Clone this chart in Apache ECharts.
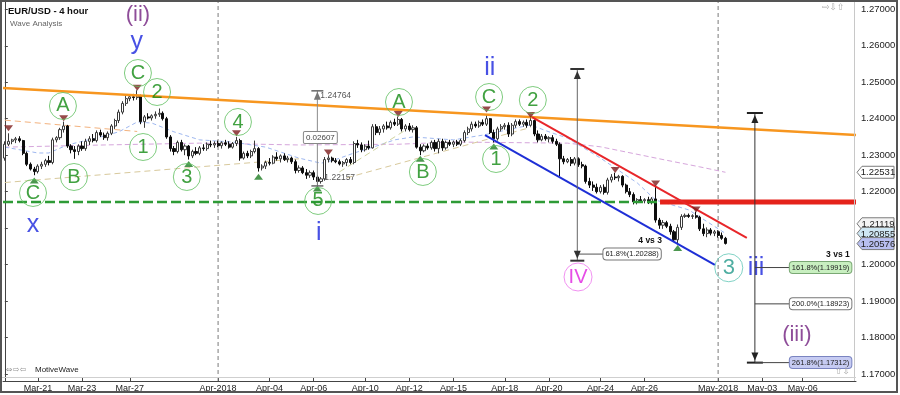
<!DOCTYPE html>
<html><head><meta charset="utf-8">
<script src="https://cdn.jsdelivr.net/npm/echarts@6/dist/echarts.min.js"></script>
<style>html,body{margin:0;padding:0;background:#fff}#c{width:900px;height:395px}</style>
</head><body><div id="c"></div>
<script>
// ---------- DATA ----------
const barCount = 232; // 4-hour bars incl. empty future space
const dayLabels    = ['Mar-21','Mar-23','Mar-27','Apr-2018','Apr-04','Apr-06','Apr-10','Apr-12','Apr-15','Apr-18','Apr-20','Apr-24','Apr-26','May-2018','May-03','May-06'];
const dayLabelBars = [9,21,34,58,72,84,98,110,122,136,148,162,174,194,206,217];
const monthStartBars = [58,194];

const opens = [1.2292,1.2330,1.2338,1.2342,1.2345,1.2340,1.2305,1.2275,1.2262,1.2255,1.2270,1.2275,1.2285,1.2280,1.2342,1.2348,1.2370,1.2380,1.2325,1.2315,
1.2310,1.2325,1.2318,1.2338,1.2345,1.2340,1.2362,1.2355,1.2348,1.2360,1.2380,1.2395,1.2418,1.2442,1.2455,1.2460,1.2458,1.2462,1.2392,1.2405,
1.2402,1.2408,1.2412,1.2415,1.2400,1.2350,1.2318,1.2310,1.2335,1.2315,1.2325,1.2298,1.2310,1.2305,1.2320,1.2318,1.2330,1.2328,1.2332,1.2326,
1.2334,1.2330,1.2322,1.2332,1.2340,1.2292,1.2305,1.2298,1.2310,1.2318,1.2265,1.2270,1.2280,1.2278,1.2295,1.2290,1.2298,1.2288,1.2292,1.2282,
1.2258,1.2265,1.2252,1.2245,1.2252,1.2240,1.2228,1.2235,1.2288,1.2292,1.2285,1.2282,1.2276,1.2280,1.2288,1.2280,1.2332,1.2328,1.2315,1.2325,
1.2320,1.2378,1.2362,1.2372,1.2380,1.2375,1.2390,1.2385,1.2398,1.2372,1.2380,1.2370,1.2375,1.2322,1.2312,1.2325,1.2320,1.2335,1.2318,1.2338,
1.2320,1.2335,1.2330,1.2336,1.2330,1.2340,1.2362,1.2372,1.2385,1.2380,1.2390,1.2385,1.2400,1.2362,1.2345,1.2372,1.2378,1.2382,1.2358,1.2382,
1.2392,1.2385,1.2390,1.2382,1.2395,1.2358,1.2342,1.2352,1.2345,1.2348,1.2338,1.2330,1.2290,1.2282,1.2288,1.2278,1.2290,1.2274,1.2270,1.2228,
1.2218,1.2212,1.2200,1.2212,1.2198,1.2232,1.2240,1.2238,1.2242,1.2218,1.2200,1.2192,1.2172,1.2178,1.2175,1.2178,1.2170,1.2180,1.2122,1.2108,
1.2115,1.2105,1.2090,1.2068,1.2102,1.2132,1.2135,1.2132,1.2134,1.2130,1.2098,1.2085,1.2095,1.2086,1.2090,1.2080,1.2072];
const highs = [1.2338,1.2360,1.2345,1.2350,1.2352,1.2342,1.2310,1.2280,1.2268,1.2275,1.2282,1.2290,1.2298,1.2348,1.2352,1.2375,1.2392,1.2383,1.2330,1.2325,
1.2330,1.2338,1.2345,1.2352,1.2358,1.2368,1.2370,1.2362,1.2365,1.2385,1.2400,1.2425,1.2448,1.2462,1.2465,1.2468,1.2478,1.2466,1.2410,1.2415,
1.2412,1.2420,1.2428,1.2420,1.2405,1.2355,1.2325,1.2340,1.2342,1.2330,1.2328,1.2315,1.2322,1.2325,1.2330,1.2335,1.2340,1.2338,1.2340,1.2338,
1.2342,1.2338,1.2336,1.2350,1.2345,1.2310,1.2312,1.2315,1.2340,1.2322,1.2275,1.2285,1.2292,1.2300,1.2308,1.2302,1.2305,1.2298,1.2296,1.2288,
1.2272,1.2270,1.2262,1.2258,1.2258,1.2245,1.2240,1.2295,1.2300,1.2296,1.2292,1.2288,1.2284,1.2292,1.2295,1.2338,1.2342,1.2335,1.2330,1.2340,
1.2385,1.2385,1.2380,1.2385,1.2392,1.2395,1.2400,1.2406,1.2402,1.2385,1.2388,1.2382,1.2380,1.2330,1.2330,1.2332,1.2340,1.2342,1.2345,1.2345,
1.2340,1.2342,1.2340,1.2342,1.2345,1.2368,1.2378,1.2392,1.2392,1.2395,1.2398,1.2412,1.2402,1.2370,1.2378,1.2385,1.2388,1.2390,1.2388,1.2398,
1.2398,1.2395,1.2398,1.2402,1.2398,1.2368,1.2358,1.2358,1.2352,1.2355,1.2345,1.2335,1.2298,1.2292,1.2295,1.2295,1.2294,1.2282,1.2274,1.2238,
1.2228,1.2222,1.2218,1.2220,1.2238,1.2248,1.2252,1.2246,1.2245,1.2222,1.2210,1.2198,1.2182,1.2188,1.2182,1.2186,1.2185,1.2215,1.2128,1.2122,
1.2120,1.2112,1.2095,1.2110,1.2138,1.2140,1.2140,1.2138,1.2145,1.2134,1.2112,1.2102,1.2100,1.2095,1.2094,1.2088,1.2076];
const lows = [1.2285,1.2325,1.2330,1.2333,1.2335,1.2300,1.2270,1.2258,1.2245,1.2250,1.2262,1.2268,1.2272,1.2275,1.2335,1.2342,1.2362,1.2320,1.2305,1.2290,
1.2300,1.2312,1.2312,1.2328,1.2335,1.2335,1.2350,1.2342,1.2340,1.2355,1.2372,1.2388,1.2412,1.2435,1.2448,1.2450,1.2452,1.2385,1.2375,1.2398,
1.2395,1.2400,1.2405,1.2395,1.2345,1.2310,1.2300,1.2305,1.2310,1.2300,1.2288,1.2292,1.2300,1.2300,1.2312,1.2312,1.2322,1.2320,1.2322,1.2318,
1.2325,1.2318,1.2318,1.2325,1.2285,1.2288,1.2292,1.2292,1.2305,1.2255,1.2258,1.2262,1.2272,1.2275,1.2285,1.2280,1.2284,1.2280,1.2276,1.2250,
1.2252,1.2248,1.2235,1.2238,1.2232,1.2216,1.2222,1.2230,1.2280,1.2280,1.2278,1.2272,1.2268,1.2270,1.2275,1.2275,1.2320,1.2308,1.2310,1.2315,
1.2318,1.2355,1.2355,1.2362,1.2370,1.2370,1.2380,1.2380,1.2365,1.2365,1.2365,1.2362,1.2318,1.2300,1.2308,1.2315,1.2315,1.2310,1.2305,1.2312,
1.2315,1.2325,1.2322,1.2325,1.2325,1.2335,1.2355,1.2365,1.2375,1.2375,1.2380,1.2380,1.2358,1.2335,1.2340,1.2365,1.2370,1.2350,1.2352,1.2375,
1.2380,1.2378,1.2375,1.2378,1.2352,1.2335,1.2338,1.2340,1.2335,1.2332,1.2325,1.2242,1.2275,1.2278,1.2270,1.2272,1.2268,1.2264,1.2222,1.2210,
1.2202,1.2195,1.2195,1.2192,1.2192,1.2225,1.2232,1.2228,1.2212,1.2195,1.2185,1.2165,1.2165,1.2170,1.2168,1.2166,1.2165,1.2115,1.2098,1.2098,
1.2100,1.2082,1.2062,1.2056,1.2095,1.2128,1.2128,1.2125,1.2126,1.2092,1.2078,1.2075,1.2080,1.2078,1.2074,1.2068,1.2055];
const closes = [1.2330,1.2338,1.2342,1.2345,1.2340,1.2305,1.2275,1.2262,1.2255,1.2270,1.2275,1.2285,1.2280,1.2342,1.2348,1.2370,1.2380,1.2325,1.2315,1.2310,
1.2325,1.2318,1.2338,1.2345,1.2340,1.2362,1.2355,1.2348,1.2360,1.2380,1.2395,1.2418,1.2442,1.2455,1.2460,1.2458,1.2462,1.2392,1.2405,1.2402,
1.2408,1.2412,1.2415,1.2400,1.2350,1.2318,1.2310,1.2335,1.2315,1.2325,1.2298,1.2310,1.2305,1.2320,1.2318,1.2330,1.2328,1.2332,1.2326,1.2334,
1.2330,1.2322,1.2332,1.2340,1.2292,1.2305,1.2298,1.2310,1.2318,1.2265,1.2270,1.2280,1.2278,1.2295,1.2290,1.2298,1.2288,1.2292,1.2282,1.2258,
1.2265,1.2252,1.2245,1.2252,1.2240,1.2228,1.2235,1.2288,1.2292,1.2285,1.2282,1.2276,1.2280,1.2288,1.2280,1.2332,1.2328,1.2315,1.2325,1.2320,
1.2378,1.2362,1.2372,1.2380,1.2375,1.2390,1.2385,1.2398,1.2372,1.2380,1.2370,1.2375,1.2322,1.2312,1.2325,1.2320,1.2335,1.2318,1.2338,1.2320,
1.2335,1.2330,1.2336,1.2330,1.2340,1.2362,1.2372,1.2385,1.2380,1.2390,1.2385,1.2400,1.2362,1.2345,1.2372,1.2378,1.2382,1.2358,1.2382,1.2392,
1.2385,1.2390,1.2382,1.2395,1.2358,1.2342,1.2352,1.2345,1.2348,1.2338,1.2330,1.2290,1.2282,1.2288,1.2278,1.2290,1.2274,1.2270,1.2228,1.2218,
1.2212,1.2200,1.2212,1.2198,1.2232,1.2240,1.2238,1.2242,1.2218,1.2200,1.2192,1.2172,1.2178,1.2175,1.2178,1.2170,1.2180,1.2122,1.2108,1.2115,
1.2105,1.2090,1.2068,1.2102,1.2132,1.2135,1.2132,1.2134,1.2130,1.2098,1.2085,1.2095,1.2086,1.2090,1.2080,1.2072,1.2058];

// indicator / average lines (sparse readings: [bar, price])
const avgBlue   = [[0,1.2322],[9,1.2306],[12,1.2306],[17,1.2328],[26,1.2350],[31,1.2364],[36,1.2391],[40,1.2388],[46,1.2364],[53,1.2342],[62,1.2336],[71,1.2322],[80,1.2292],[86,1.2278],[90,1.2288],[95,1.2306],[102,1.2328],[106,1.2342],[111,1.2350],[122,1.2342],[130,1.2355],[143,1.2383],[148,1.2364],[153,1.2347],[162,1.2292],[172,1.2224],[177,1.2177],[186,1.2150],[196,1.20855]];
const avgPurple = [[0,1.2322],[27,1.2328],[53,1.2333],[80,1.2328],[107,1.2330],[122,1.2336],[153,1.2333],[162,1.2323],[180,1.2286],[189,1.2268],[196,1.22531]];
const avgOrange = [[0,1.2396],[36,1.2365]];
const guideTan1 = [[0,1.2225],[80,1.2290]];
const guideTan2 = [[93,1.2238],[143,1.2376]];
const guideOlive = [[91,1.2254],[109,1.2369]];

// trend lines [bar, price]
const orangeTrend = [[-0.5,1.2484],[231.5,1.2355]];
const redChannel  = [[143.4,1.2404],[201.8,1.2073]];
const blueChannel = [[130.6,1.2355],[193.1,1.1999]];
const supportLevel = 1.21716;
const supportBreakBar = 177.4;

// swing markers [bar, price]
const highMarkers = [[1,1.23740],[16,1.24010],[36,1.24850],[63,1.23600],[88,1.23075],[107,1.24129],[131,1.24253],[143,1.24102],[166,1.22594],[177,1.22223],[188,1.21510]];
const lowMarkers  = [[8,1.22306],[50,1.22758],[69,1.22410],[85,1.22086],[113,1.22904],[133,1.23238],[183,1.20456]];

// wave labels [text, bar, price]
const minorWaves = [['C',7.66,1.21963],['A',15.8,1.24349],['B',18.8,1.22402],['C',36.2,1.25253],['2',41.4,1.24732],['1',37.6,1.23224],['3',49.5,1.22402],['4',63.4,1.23910],['5',85.2,1.21744],['A',107.2,1.24458],['B',113.7,1.22539],['C',131.7,1.24595],['1',133.6,1.22895],['2',143.6,1.24513]];
const minuteWaves = [['3',196.9,1.19913]];
const primaryWaves = [['IV',155.9,1.19660]];
const blueWaves = [['y',35.9,1.26103],['x',7.66,1.21085],['i',85.4,1.20866],['ii',131.9,1.25390],['iii',204.3,1.19906]];
const purpleWaves = [['(ii)',36.2,1.26844],['(iii)',215.4,1.18070]];

// measurement tools
const measureI = {bar:85, low:1.22157, high:1.24764, diff:'0.02607'};
const fibIV = {bar:155.7, top:1.25363, bottom:1.20107, level:1.20288, labelBar:162.8, label:'61.8%(1.20288)'};
const fibIII = {bar:204, top:1.24157, bottom:1.17312, labelBar:213.5};
const fibIIILevels = [1.19919, 1.18923, 1.17312];
const fibIIILabels = ['161.8%(1.19919)','200.0%(1.18923)','261.8%(1.17312)'];
const priceTags = [1.22531, 1.21119, 1.20855, 1.20576];
const yMin = 1.16808, yMax = 1.27200;

// ---------- CHART ----------
const FONT = '"Liberation Sans", Arial, sans-serif';
const chart = echarts.init(document.getElementById('c'), null, {renderer:'canvas'});
const categories = Array.from({length: barCount}, (_, i) => String(i));
const labelAt = {}; dayLabelBars.forEach((b, k) => { labelAt[b] = dayLabels[k]; });
const candleData = opens.map((o, i) => [o, closes[i], lows[i], highs[i]]);

const lineS = (data, color, width, type, z) => ({type:'line', xAxisIndex:1, yAxisIndex:0, data, symbol:'none', silent:true, lineStyle:{color, width, type}, z: z || 2});
const textS = (arr, color, size, z) => ({type:'scatter', xAxisIndex:1, silent:true, z: z || 20,
  data: arr.map(([t,b,p]) => ({name:t, value:[b,p]})), symbol:'circle', symbolSize:1, itemStyle:{color:'rgba(0,0,0,0)'},
  label:{show:true, position:'inside', formatter:'{b}', fontSize:size, color, fontFamily:FONT}});
const circleS = (arr, ring, color, size, d) => ({type:'scatter', xAxisIndex:1, silent:true, z:20,
  data: arr.map(([t,b,p]) => ({name:t, value:[b,p]})), symbol:'circle', symbolSize:d,
  itemStyle:{color:'rgba(255,255,255,0)', borderColor:ring, borderWidth:1},
  label:{show:true, position:'inside', formatter:'{b}', fontSize:size, color, fontFamily:FONT}});

const series = [
  lineS(avgPurple, '#d6a6dc', 1, [5,3]),
  lineS(avgBlue, '#9fb8f0', 1, [4,3]),
  lineS(avgOrange, '#f3b27e', 1, [6,4]),
  lineS(guideTan1, '#d8c99c', 1, [6,4]),
  lineS(guideTan2, '#d8c99c', 1, [6,4]),
  lineS(guideOlive, '#cfd3a0', 1, [6,4]),
  {type:'candlestick', xAxisIndex:0, yAxisIndex:0, data:candleData, barWidth:2.6, silent:true, z:5,
   itemStyle:{color:'#ffffff', color0:'#0d0d0d', borderColor:'#3a3a3a', borderColor0:'#0d0d0d', borderWidth:1}},
  ...monthStartBars.map(b => lineS([[b,yMin],[b,yMax]], '#7a7a7a', 1, [4,3], 1)),
  lineS([[-0.5,supportLevel],[supportBreakBar,supportLevel]], '#2e9b36', 2.5, [10,4], 6),
  lineS([[supportBreakBar+0.8,supportLevel],[231.5,supportLevel]], '#e5231b', 5, 'solid', 6),
  lineS(orangeTrend, '#f7961f', 2.5, 'solid', 6),
  lineS(redChannel, '#e8262a', 2, 'solid', 6),
  lineS(blueChannel, '#1e2fd6', 2, 'solid', 6),
  {type:'scatter', xAxisIndex:1, silent:true, z:15, data:highMarkers, symbol:'triangle', symbolRotate:180, symbolSize:[9,6], itemStyle:{color:'#7d1d1d'}},
  {type:'scatter', xAxisIndex:1, silent:true, z:15, data:lowMarkers, symbol:'triangle', symbolSize:[9,6], itemStyle:{color:'#1f7d23'}},
  circleS(minorWaves, '#5fbf5f', '#128a12', 20, 27),
  circleS(minuteWaves, '#62c7b6', '#22998a', 22, 28),
  circleS(primaryWaves, '#ee77ee', '#e020e0', 20, 28),
  textS(blueWaves, '#1a25dd', 25),
  textS(purpleWaves, '#72207f', 22)
];

chart.setOption({
  animation:false,
  backgroundColor:'#ffffff',
  grid:{left:3, right:44, top:2, bottom:14, containLabel:false},
  xAxis:[
    {type:'category', data:categories, boundaryGap:true,
     axisLine:{show:true, lineStyle:{color:'#444', width:1}},
     axisTick:{show:true, inside:true, length:3, alignWithLabel:true, interval:(i)=> (i in labelAt), lineStyle:{color:'#444'}},
     axisLabel:{interval:(i)=> (i in labelAt), formatter:(v)=> labelAt[+v] || '', fontSize:9, color:'#222', margin:3, fontFamily:FONT},
     splitLine:{show:false}},
    {type:'value', min:-0.5, max:barCount-0.5, show:false}
  ],
  yAxis:[{type:'value', position:'right', min:yMin, max:yMax, splitNumber:10,
    axisLine:{show:true, lineStyle:{color:'#444'}},
    axisTick:{show:true, length:3, lineStyle:{color:'#444'}},
    axisLabel:{formatter:(v)=> v.toFixed(5), fontSize:9.5, color:'#222', margin:5, showMinLabel:false, showMaxLabel:false, fontFamily:FONT},
    splitLine:{show:false}}],
  series
});

// ---------- annotations positioned through the axes ----------
const X = b => chart.convertToPixel({xAxisIndex:1}, b);
const Y = p => chart.convertToPixel({yAxisIndex:0}, p);
const g = [];
const ln = (x1,y1,x2,y2,stroke,w) => g.push({type:'line', silent:true, z:100, shape:{x1,y1,x2,y2}, style:{stroke, lineWidth:w||1}});
const arrow = (x,y,dir,fill) => { const h = dir==='up' ? 8 : -8;
  g.push({type:'polygon', silent:true, z:101, shape:{points:[[x,y],[x-3.5,y+h],[x+3.5,y+h]]}, style:{fill}}); };
const txt = (x,y,text,o) => g.push({type:'text', silent:true, z:110, x, y,
  style:Object.assign({text, fill:'#222', font:'9px '+FONT, align:'left', verticalAlign:'middle', textAlign:'left', textVerticalAlign:'middle'}, o||{})});
const box = (x,y,text,bg,border,o) => txt(x,y,text,Object.assign({backgroundColor:bg, borderColor:border, borderWidth:1, borderRadius:3, padding:[2,2,1,2], font:'7.5px '+FONT, fill:'#222'}, o||{}));

// measure tool on wave i
{ const x = X(measureI.bar), yt = Y(measureI.high), yb = Y(measureI.low);
  ln(x, yt, x, yb, '#8c8c8c', 1); ln(x-6, yt, x+6, yt, '#666', 1.5); arrow(x, yt+1, 'up', '#777');
  ln(x-6, yb, x+6, yb, '#666', 1.5);
  txt(x+3, Y(1.24622), measureI.high.toFixed(5), {fill:'#555', font:'8.5px '+FONT});
  txt(x+7, Y(1.22380), measureI.low.toFixed(5), {fill:'#555', font:'8.5px '+FONT});
  box(x+3, Y(1.23485), measureI.diff, '#ffffff', '#888', {align:'center', textAlign:'center', font:'8px '+FONT, borderRadius:1, fill:'#444'});
}
// wave IV fib arrow
{ const x = X(fibIV.bar), yt = Y(fibIV.top), yb = Y(fibIV.bottom), yl = Y(fibIV.level), xl = X(fibIV.labelBar);
  ln(x, yt, x, yb, '#666', 1); ln(x-7, yt, x+7, yt, '#333', 2); ln(x-7, yb, x+7, yb, '#333', 2);
  arrow(x, yt+2, 'up', '#333'); arrow(x, yb-2, 'down', '#333');
  ln(x, yl, xl, yl, '#555', 1);
  box(xl, yl, fibIV.label, '#ffffff', '#777');
  txt(X(175.5), Y(1.20647), '4 vs 3', {font:'bold 8.5px '+FONT, align:'center', textAlign:'center', fill:'#111'});
}
// wave iii fib arrow
{ const x = X(fibIII.bar), yt = Y(fibIII.top), yb = Y(fibIII.bottom), xl = X(fibIII.labelBar);
  ln(x, yt, x, yb, '#333', 1); ln(x-8, yt, x+8, yt, '#222', 2); ln(x-8, yb, x+8, yb, '#222', 2);
  arrow(x, yt+2, 'up', '#222'); arrow(x, yb-2, 'down', '#222');
  const bgs = ['#c8efc0','#ffffff','#c6cbf2'], bds = ['#7aa874','#777','#7a84c0'];
  fibIIILevels.forEach((p, k) => { const y = Y(p); ln(x, y, xl, y, '#444', 1); box(xl, y, fibIIILabels[k], bgs[k], bds[k]); });
  txt(X(229.8), Y(1.20260), '3 vs 1', {font:'bold 8.5px '+FONT, align:'right', textAlign:'right', fill:'#111'});
}
// price tags on the axis
{ const xa = X(barCount-0.5) + 1; const fills = ['#ffffff','#f4f4f4','#cfe7f3','#b8bff0'];
  priceTags.forEach((p, k) => { const y = Y(p);
    g.push({type:'polygon', silent:true, z:105, shape:{points:[[xa,y],[xa+5,y-6],[xa+37,y-6],[xa+37,y+6],[xa+5,y+6]]}, style:{fill:fills[k], stroke:'#7b7b7b', lineWidth:1}});
    txt(xa+21, y+0.5, p.toFixed(5), {align:'center', textAlign:'center', font:'9.5px '+FONT, fill:'#222'});
  });
}
// titles, branding, frame
txt(8, 11, 'EUR/USD - 4 hour', {font:'bold 9.5px '+FONT, fill:'#111'});
txt(10, 24, 'Wave Analysis', {font:'8px '+FONT, fill:'#666'});
txt(6, 370, '\u21D4\u21E8\u21E6', {font:'8px "DejaVu Sans", sans-serif', fill:'#999'});
txt(35, 370, 'MotiveWave', {font:'8px '+FONT, fill:'#222'});
txt(822, 8, '\u21E8\u21E9\u21E7', {font:'9px "DejaVu Sans", sans-serif', fill:'#aaa'});
txt(835, 372, '\u21E7\u21E9', {font:'9px "DejaVu Sans", sans-serif', fill:'#aaa'});
g.push({type:'line', silent:true, z:90, shape:{x1:X(barCount-0.5)-1.5, y1:2, x2:X(barCount-0.5)-1.5, y2:Y(yMin)}, style:{stroke:'#c8c8c8', lineWidth:1}});
g.push({type:'line', silent:true, z:90, shape:{x1:2, y1:Y(yMin)-3.5, x2:X(barCount-0.5), y2:Y(yMin)-3.5}, style:{stroke:'#cfcfcf', lineWidth:1}});
g.push({type:'rect', silent:true, z:120, shape:{x:1, y:1, width:896, height:391}, style:{fill:'none', stroke:'#555', lineWidth:2}});

chart.setOption({graphic:{elements:g}});
</script>
</body></html>
